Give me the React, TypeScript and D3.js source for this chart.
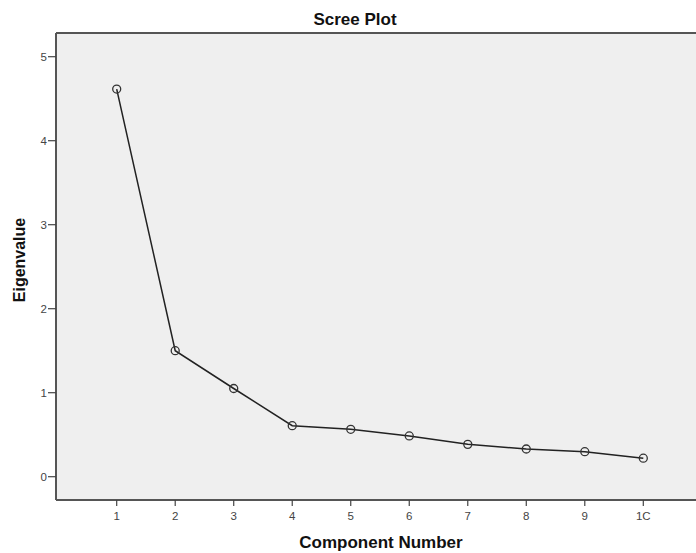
import React from "react";
import * as d3 from "d3";

const components = [1, 2, 3, 4, 5, 6, 7, 8, 9, 10];
const eigenvalues = [4.615, 1.5, 1.05, 0.607, 0.564, 0.485, 0.385, 0.33, 0.298, 0.22];
const yTicks = [0, 1, 2, 3, 4, 5];
const xTickLabels = ["1", "2", "3", "4", "5", "6", "7", "8", "9", "1C"];

export default function App() {
  const W = 696, H = 553;
  const left = 56, top = 33, bottom = 500, right = 700;
  const x = d3.scaleLinear().domain([1, 10]).range([116.7, 643.3]);
  const y = d3.scaleLinear().domain([0, 5]).range([476.7, 56.7]);
  const line = d3.line<number>().x((_, i) => x(components[i])).y((d) => y(d));
  const font = "'Liberation Sans', Arial, sans-serif";
  return (
    <svg width={W} height={H} style={{ position: "absolute", left: 0, top: 0, background: "#fff" }}>
      <rect x={left} y={top} width={right - left} height={bottom - top} fill="#efefef" />
      <line x1={left} x2={right} y1={top} y2={top} stroke="#555" strokeWidth={2} />
      <line x1={left} x2={left} y1={top} y2={bottom} stroke="#555" strokeWidth={2} />
      <line x1={left} x2={right} y1={bottom} y2={bottom} stroke="#555" strokeWidth={2} />
      {yTicks.map((t) => (
        <g key={t}>
          <line x1={48} x2={left} y1={y(t)} y2={y(t)} stroke="#444" strokeWidth={1.2} />
          <text x={47} y={y(t)} dy="0.36em" textAnchor="end" fontSize={11.5} fill="#444" fontFamily={font}>{t}</text>
        </g>
      ))}
      {components.map((c, i) => (
        <g key={c}>
          <line x1={x(c)} x2={x(c)} y1={bottom} y2={bottom + 6} stroke="#444" strokeWidth={1.2} />
          <text x={x(c)} y={516} dy="0.36em" textAnchor="middle" fontSize={11.5} fill="#444" fontFamily={font}>{xTickLabels[i]}</text>
        </g>
      ))}
      <path d={line(eigenvalues) || ""} fill="none" stroke="#222" strokeWidth={1.5} />
      {eigenvalues.map((v, i) => (
        <circle key={i} cx={x(components[i])} cy={y(v)} r={4} fill="none" stroke="#333" strokeWidth={1.3} />
      ))}
      <text x={355} y={25} textAnchor="middle" fontSize={17} fontWeight="bold" fill="#111" fontFamily={font}>Scree Plot</text>
      <text x={381} y={548} textAnchor="middle" fontSize={17} fontWeight="bold" fill="#111" fontFamily={font}>Component Number</text>
      <text transform={`translate(25,260) rotate(-90)`} textAnchor="middle" fontSize={16} fontWeight="bold" fill="#111" fontFamily={font}>Eigenvalue</text>
    </svg>
  );
}
